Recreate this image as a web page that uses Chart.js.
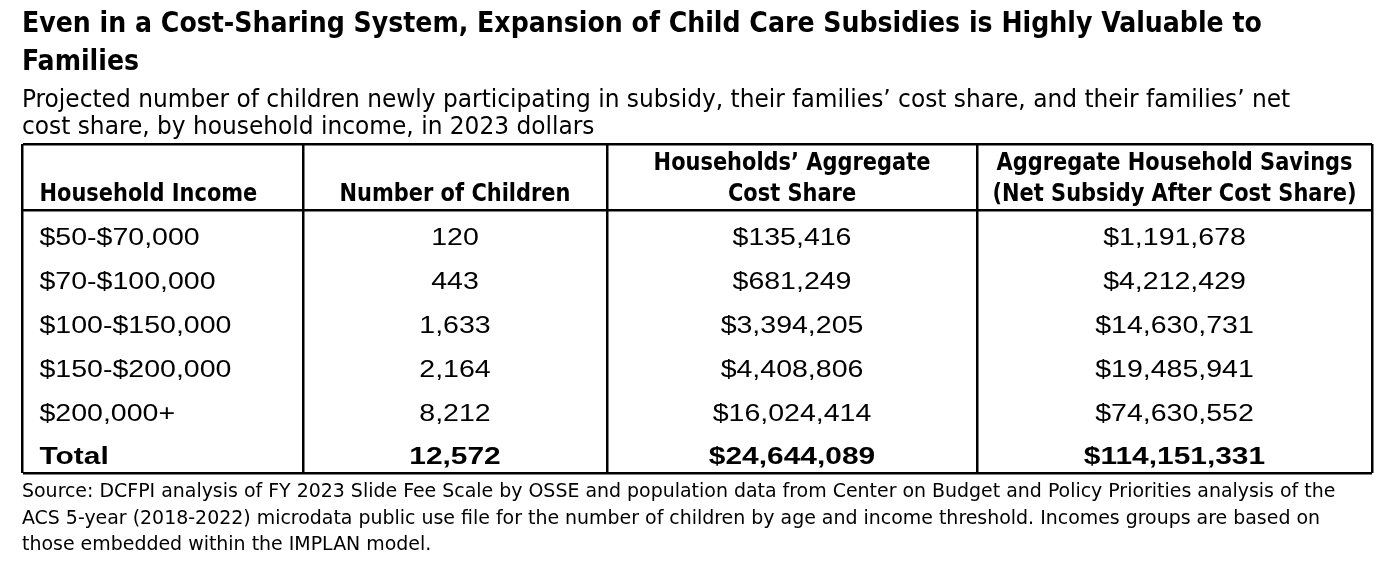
<!DOCTYPE html>
<html>
<head>
<meta charset="utf-8">
<title>Child care subsidies table</title>
<script src="https://cdn.jsdelivr.net/npm/chart.js@4.4.1/dist/chart.umd.min.js"></script>
<style>
    html, body { margin: 0; padding: 0; background: #fff; }
    body {
        width: 1399px; height: 568px; position: relative; overflow: hidden;
        font-family: "DejaVu Sans Condensed", sans-serif;
        color: #000;
    }
    #wrap { position: absolute; left: 0; top: 0; width: 1399px; height: 568px; }
    .txt { position: absolute; left: 22px; white-space: nowrap; transform-origin: 0 0; }
    #title { top: 3px; font-weight: bold; font-size: 29px; line-height: 38px; }
    #subtitle { top: 86px; font-size: 24px; line-height: 27px; }
    #source { top: 477px; font-size: 20px; line-height: 26.5px; }
</style>
</head>
<body>
<div id="wrap"><canvas id="tableChart"></canvas></div>
<div id="title" class="txt" data-width="1240">Even in a Cost-Sharing System, Expansion of Child Care Subsidies is Highly Valuable to<br>Families</div>
<div id="subtitle" class="txt" data-width="1268">Projected number of children newly participating in subsidy, their families’ cost share, and their families’ net<br>cost share, by household income, in 2023 dollars</div>
<div id="source" class="txt" data-width="1313">Source: DCFPI analysis of FY 2023 Slide Fee Scale by OSSE and population data from Center on Budget and Policy Priorities analysis of the<br>ACS 5-year (2018-2022) microdata public use file for the number of children by age and income threshold. Incomes groups are based on<br>those embedded within the IMPLAN model.</div>

<script>
// ---- table data ----
const headers = [
    ["Household Income"],
    ["Number of Children"],
    ["Households’ Aggregate", "Cost Share"],
    ["Aggregate Household Savings", "(Net Subsidy After Cost Share)"]
];
const incomeGroups = ["$50-$70,000", "$70-$100,000", "$100-$150,000", "$150-$200,000", "$200,000+"];
const numChildren = [120, 443, 1633, 2164, 8212];
const costShare = [135416, 681249, 3394205, 4408806, 16024414];
const netSavings = [1191678, 4212429, 14630731, 19485941, 74630552];
const totalLabel = "Total";
const totals = [12572, 24644089, 114151331];

// ---- layout ----
const colWidths = [280.5, 304, 370, 395];
const colEdges = [0];
colWidths.forEach(w => colEdges.push(colEdges[colEdges.length - 1] + w));
const headerRows = 1.5;          // header band height in row units
const textOffset = 0.66;         // text centre inside a row
const headerLineY = [-1.05, -0.34];
const cellPad = 17;

// the source picture is stretched sideways a bit
const stretchBody = 1.24;
const stretchBold = 1.30;
const stretchHead = 0.97;

// fit the html texts to the widths seen in the picture
document.querySelectorAll(".txt").forEach(el => {
    const k = Number(el.dataset.width) / el.offsetWidth;
    el.style.transform = "scaleX(" + k + ")";
});

const fmtNum = v => v.toLocaleString("en-US");
const fmtDollar = v => "$" + v.toLocaleString("en-US");

const columns = [
    incomeGroups.concat([totalLabel]),
    numChildren.map(fmtNum).concat([fmtNum(totals[0])]),
    costShare.map(fmtDollar).concat([fmtDollar(totals[1])]),
    netSavings.map(fmtDollar).concat([fmtDollar(totals[2])])
];

const datasets = columns.map((cells, c) => ({
    label: headers[c].join(" "),
    align: c === 0 ? "left" : "center",
    data: cells.map((text, r) => ({
        x: c === 0 ? colEdges[c] : (colEdges[c] + colEdges[c + 1]) / 2,
        y: r + textOffset,
        text: text,
        bold: r === cells.length - 1
    })),
    pointRadius: 0,
    pointHoverRadius: 0
}));

function drawStretched(ctx, text, x, y, align, k) {
    const w = ctx.measureText(text).width * k;
    const x0 = align === "left" ? x : x - w / 2;
    ctx.save();
    ctx.translate(x0, y);
    ctx.scale(k, 1);
    ctx.textAlign = "left";
    ctx.fillText(text, 0, 0);
    ctx.restore();
}

const cellText = {
    id: "cellText",
    afterDatasetsDraw(chart) {
        const ctx = chart.ctx;
        const xs = chart.scales.x;
        const ys = chart.scales.y;
        ctx.save();
        ctx.fillStyle = "#000";
        ctx.textBaseline = "middle";

        // header
        ctx.font = "bold 24px 'DejaVu Sans Condensed', sans-serif";
        headers.forEach((lines, c) => {
            const first = headerLineY.length - lines.length;
            lines.forEach((line, k) => {
                const y = ys.getPixelForValue(headerLineY[first + k]);
                if (c === 0) {
                    drawStretched(ctx, line, xs.getPixelForValue(colEdges[c]) + cellPad, y, "left", stretchHead);
                } else {
                    drawStretched(ctx, line, xs.getPixelForValue((colEdges[c] + colEdges[c + 1]) / 2), y, "center", stretchHead);
                }
            });
        });

        // body cells
        chart.data.datasets.forEach((ds, i) => {
            const meta = chart.getDatasetMeta(i);
            meta.data.forEach((pt, j) => {
                const d = ds.data[j];
                ctx.font = (d.bold ? "bold " : "") + "23px 'Liberation Sans', Arial, sans-serif";
                const x = ds.align === "left" ? pt.x + cellPad : pt.x;
                drawStretched(ctx, d.text, x, pt.y, ds.align, d.bold ? stretchBold : stretchBody);
            });
        });
        ctx.restore();
    }
};

new Chart(document.getElementById("tableChart"), {
    type: "scatter",
    data: { datasets: datasets },
    options: {
        responsive: true,
        maintainAspectRatio: false,
        animation: false,
        events: [],
        layout: { padding: { left: 22.5, right: 27, top: 144, bottom: 95 } },
        plugins: {
            legend: { display: false },
            tooltip: { enabled: false }
        },
        scales: {
            x: {
                type: "linear",
                min: colEdges[0],
                max: colEdges[colEdges.length - 1],
                afterBuildTicks: axis => { axis.ticks = colEdges.map(v => ({ value: v })); },
                ticks: { display: false },
                grid: { color: "#000", lineWidth: 2.5, drawTicks: false },
                border: { display: false }
            },
            y: {
                type: "linear",
                reverse: true,
                min: -headerRows,
                max: columns[0].length,
                afterBuildTicks: axis => {
                    axis.ticks = [-headerRows, 0, columns[0].length].map(v => ({ value: v }));
                },
                ticks: { display: false },
                grid: { color: "#000", lineWidth: 2.5, drawTicks: false },
                border: { display: false }
            }
        }
    },
    plugins: [cellText]
});
</script>
</body>
</html>
